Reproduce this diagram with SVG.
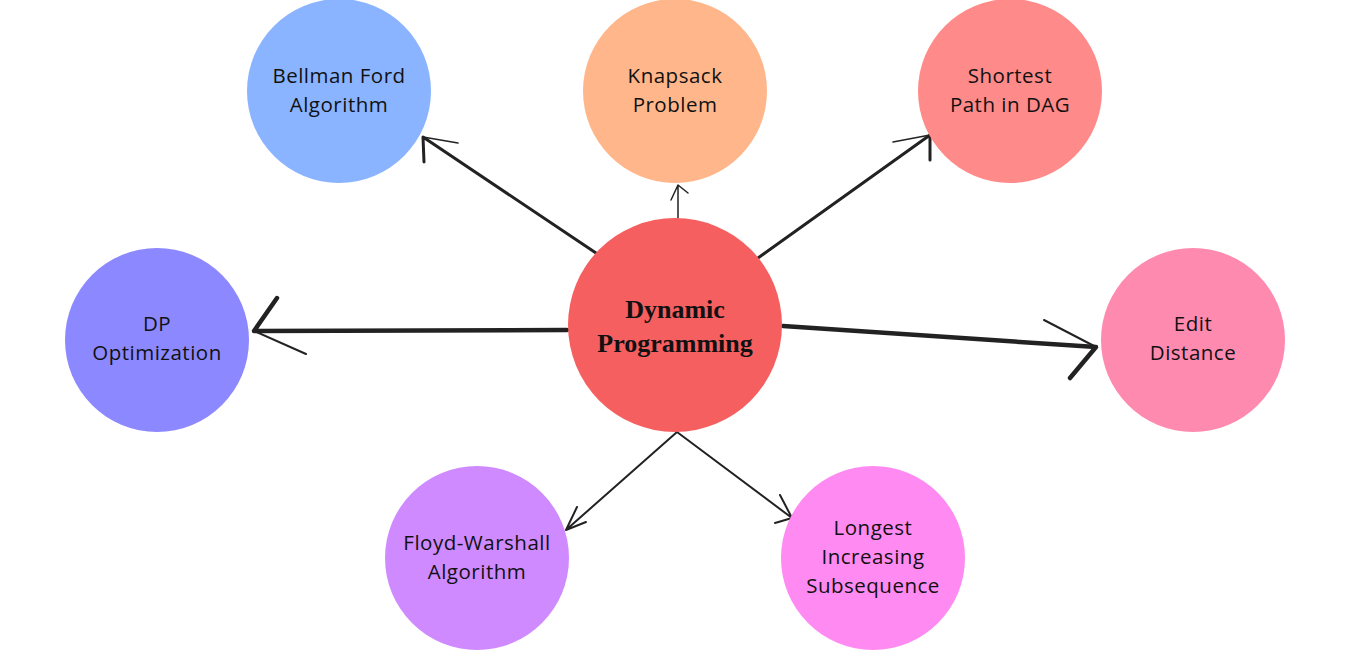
<svg xmlns="http://www.w3.org/2000/svg" width="1350" height="650" viewBox="0 0 1350 650">
<style>
.lbl{font-family:"Open Sans","Noto Sans","Liberation Sans",sans-serif;font-size:20.5px;letter-spacing:0.5px;fill:#111;text-anchor:middle}
.ctr{font-family:"Liberation Serif","DejaVu Serif",serif;font-weight:bold;font-size:26px;fill:#111;text-anchor:middle}
.ln{stroke:#222;fill:none;stroke-linecap:round;stroke-linejoin:round}
</style>
<rect width="1350" height="650" fill="#fff"/>
<g id="connectors">
<g class="ln" stroke-width="3">
<path d="M596,253 L423,137 L424,162"/>
<path d="M423,137 L458,143" stroke-width="1.5"/>
<path d="M678,218 L678,185 M671,200 L678,185 L688,193" stroke-width="1.5"/>
<path d="M758,258 L930,135 L930,160"/>
<path d="M930,135 L893,142" stroke-width="1.5"/>
<path d="M677,432 L566,530 M577,507 L566,530 L586,522" stroke-width="2"/>
<path d="M677,432 L792,518 M780,495 L792,518 L775,523" stroke-width="2"/>
</g>
<g class="ln" stroke-width="4.5">
<path d="M567,330 L254,331 L277,298"/>
<path d="M254,331 L306,354" stroke-width="2"/>
<path d="M783,326 L1096,347 L1070,378"/>
<path d="M1096,347 L1044,320" stroke-width="2"/>
</g>
</g>
<g id="bellman"><circle cx="339" cy="91" r="92" fill="#8AB4FF"/><text class="lbl" x="339" y="83">Bellman Ford</text><text class="lbl" x="339" y="112">Algorithm</text></g>
<g id="knapsack"><circle cx="675" cy="91" r="92" fill="#FFB68A"/><text class="lbl" x="675" y="83">Knapsack</text><text class="lbl" x="675" y="112">Problem</text></g>
<g id="shortest"><circle cx="1010" cy="91" r="92" fill="#FF8A8A"/><text class="lbl" x="1010" y="83">Shortest</text><text class="lbl" x="1010" y="112">Path in DAG</text></g>
<g id="dpopt"><circle cx="157" cy="340" r="92" fill="#8C88FF"/><text class="lbl" x="157" y="331">DP</text><text class="lbl" x="157" y="360">Optimization</text></g>
<g id="edit"><circle cx="1193" cy="340" r="92" fill="#FF8AB0"/><text class="lbl" x="1193" y="331">Edit</text><text class="lbl" x="1193" y="360">Distance</text></g>
<g id="floyd"><circle cx="477" cy="558" r="92" fill="#CF8AFF"/><text class="lbl" x="477" y="550">Floyd-Warshall</text><text class="lbl" x="477" y="579">Algorithm</text></g>
<g id="lis"><circle cx="873" cy="558" r="92" fill="#FF8AF2"/><text class="lbl" x="873" y="535">Longest</text><text class="lbl" x="873" y="564">Increasing</text><text class="lbl" x="873" y="593">Subsequence</text></g>
<g id="center"><circle cx="675" cy="325" r="107" fill="#F65F60"/><text class="ctr" x="675" y="318">Dynamic</text><text class="ctr" x="675" y="352">Programming</text></g>
</svg>
